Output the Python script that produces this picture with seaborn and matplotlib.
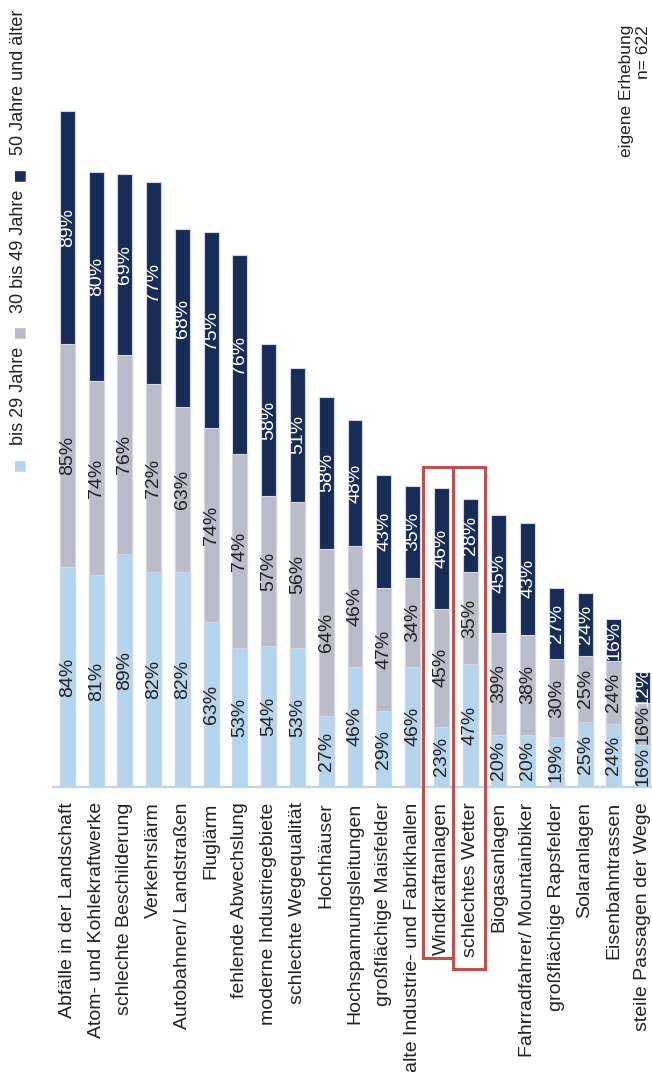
import matplotlib
matplotlib.use("Agg")
import pandas as pd
import matplotlib.pyplot as plt
import seaborn as sns
from matplotlib.patches import Rectangle
from matplotlib import transforms

# Daten (von links nach rechts)
kategorien = [
    "Abfälle in der Landschaft", "Atom- und Kohlekraftwerke", "schlechte Beschilderung",
    "Verkehrslärm", "Autobahnen/ Landstraßen", "Fluglärm", "fehlende Abwechslung",
    "moderne Industriegebiete", "schlechte Wegequalität", "Hochhäuser",
    "Hochspannungsleitungen", "großflächige Maisfelder", "alte Industrie- und Fabrikhallen",
    "Windkraftanlagen", "schlechtes Wetter", "Biogasanlagen", "Fahrradfahrer/ Mountainbiker",
    "großflächige Rapsfelder", "Solaranlagen", "Eisenbahntrassen", "steile Passagen der Wege",
]
bis29 = [84, 81, 89, 82, 82, 63, 53, 54, 53, 27, 46, 29, 46, 23, 47, 20, 20, 19, 25, 24, 16]
bis49 = [85, 74, 76, 72, 63, 74, 74, 57, 56, 64, 46, 47, 34, 45, 35, 39, 38, 30, 25, 24, 16]
ab50 = [89, 80, 69, 77, 68, 75, 76, 58, 51, 58, 48, 43, 35, 46, 28, 45, 43, 27, 24, 16, 12]

gruppen = ["bis 29 Jahre", "30 bis 49 Jahre", "50 Jahre und älter"]
farben = ["#b5d5ee", "#bbbcca", "#172d57"]
text_farben = ["#222222", "#222222", "white"]
markiert = ["Windkraftanlagen", "schlechtes Wetter"]

sns.set_theme(style="white")
plt.rcParams["font.family"] = ["Liberation Sans", "DejaVu Sans"]

df = pd.DataFrame({"Kategorie": kategorien, "bis29": bis29, "bis49": bis49, "ab50": ab50})
df["s1"] = df["bis29"]
df["s2"] = df["s1"] + df["bis49"]
df["s3"] = df["s2"] + df["ab50"]

fig = plt.figure(figsize=(6.52, 10.8), dpi=100)
ax = fig.add_axes([53 / 652, 1 - 787 / 1080, 604 / 652, 707 / 1080])

# gestapelte Säulen: Summen übereinander zeichnen
for spalte, farbe in zip(["s3", "s2", "s1"], farben[::-1]):
    sns.barplot(data=df, x="Kategorie", y=spalte, color=farbe, saturation=1,
                width=0.52, edgecolor="#d3d6e0", linewidth=0.8, errorbar=None, ax=ax)

# Prozentwerte in die Segmente
for i, row in df.iterrows():
    unten = 0
    for wert, tfarbe in zip([row["bis29"], row["bis49"], row["ab50"]], text_farben):
        ax.text(i, unten + wert / 2, f"{wert}%", rotation=90, ha="center", va="center",
                fontsize=14, color=tfarbe)
        unten += wert

ax.set_xlim(-0.5, len(kategorien) - 0.5)
ax.set_ylim(0, 270)
ax.set_xlabel("")
ax.set_ylabel("")
ax.set_yticks([])
ax.set_xticks(range(len(kategorien)))
ax.set_xticklabels(kategorien, rotation=90, ha="center", va="top")
ax.tick_params(axis="x", length=0, pad=11, labelsize=14, labelcolor="#222222")
for s in ["top", "left", "right"]:
    ax.spines[s].set_visible(False)
ax.spines["bottom"].set_color("#bcd6ee")
ax.spines["bottom"].set_linewidth(1.6)

# rote Markierungen
trans = transforms.blended_transform_factory(ax.transData, fig.transFigure)
boxen = [(-0.64, 0.41, 958), (-0.59, 0.52, 969)]
for name, (links, rechts, unten_px) in zip(markiert, boxen):
    i = kategorien.index(name)
    y0 = 1 - unten_px / 1080
    ax.add_patch(Rectangle((i + links, y0), rechts - links, (1 - 467 / 1080) - y0,
                           transform=trans, fill=False, edgecolor="#c0504d",
                           linewidth=2.2, clip_on=False, zorder=5))

# Legende (gedreht, von oben nach unten verkettet)
vorher = fig.text(19 / 652, 1 - 10 / 1080, gruppen[2], rotation=90, ha="center",
                  va="top", fontsize=13, color="#222222")
for k in [2, 1, 0]:
    quadrat = ax.annotate("■", xy=(0.5, 0), xycoords=vorher, xytext=(0, -9),
                          textcoords="offset points", rotation=90, ha="center", va="top",
                          fontsize=10, color=farben[k], family=["DejaVu Sans"])
    vorher = quadrat
    if k > 0:
        vorher = ax.annotate(gruppen[k - 1], xy=(0.5, 0), xycoords=quadrat, xytext=(0, -6),
                             textcoords="offset points", rotation=90, ha="center", va="top",
                             fontsize=13, color="#222222")

fig.text(635 / 652, 1 - 25 / 1080, "eigene Erhebung\nn= 622", rotation=90, ha="center",
         va="top", multialignment="right", linespacing=1.1, fontsize=12.5, color="#222222")

fig.savefig("out.png", dpi=100)
